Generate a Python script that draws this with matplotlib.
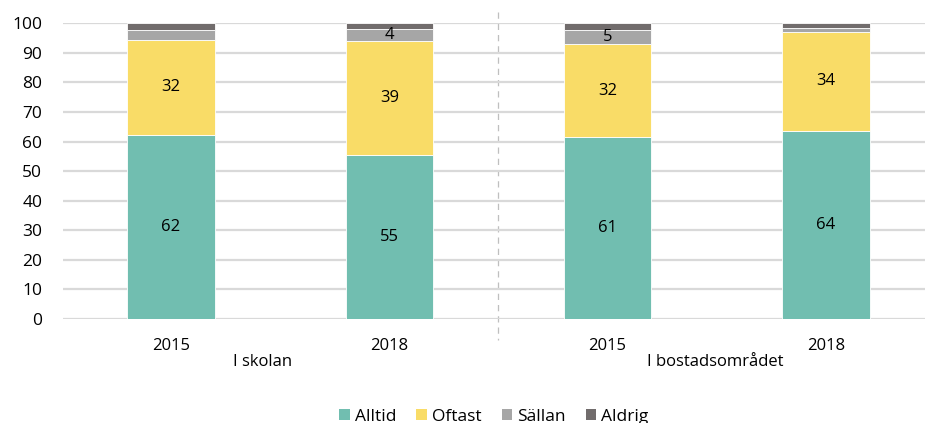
import numpy as np
import matplotlib
matplotlib.use('Agg')
import matplotlib.pyplot as plt
from matplotlib.patches import Patch

plt.rcParams['font.family'] = ['Open Sans', 'DejaVu Sans']

# data
years = ['2015', '2018', '2015', '2018']
groups = ['I skolan', 'I bostadsområdet']
series = ['Alltid', 'Oftast', 'Sällan', 'Aldrig']
alltid = [62.3, 55.4, 61.4, 63.6]
oftast = [32.0, 38.6, 31.6, 33.6]
sallan = [3.3, 4.0, 4.9, 1.1]
aldrig = [2.4, 2.0, 2.1, 1.7]

colors = ['#71BEB0', '#F9DC67', '#A6A6A6', '#716C6C']

fig = plt.figure(figsize=(9.25, 4.23), dpi=100)
ax = fig.add_axes([0.0681, 0.2459, 0.9319, 0.699])

x = np.arange(len(years))
bottom = np.zeros(len(years))
for vals, col in zip([alltid, oftast, sallan, aldrig], colors):
    vals = np.array(vals)
    ax.bar(x, vals, 0.40, bottom=bottom, color=col, edgecolor='white',
           linewidth=0.6, zorder=3)
    for xi, b, v in zip(x, bottom, vals):
        if v >= 3.5:
            ax.text(xi, b + v / 2, '%.0f' % v, ha='center', va='center',
                    fontsize=12, color='black', zorder=4)
    bottom += vals

ax.set_xlim(-0.495, 3.454)
ax.set_ylim(0, 100)
ax.set_yticks(range(0, 101, 10))
ax.yaxis.grid(True, color='#D9D9D9', linewidth=1.6, zorder=0)
ax.tick_params(axis='y', length=0, pad=15, labelsize=12.5)
ax.set_xticks(x)
ax.set_xticklabels(years)
ax.tick_params(axis='x', length=0, pad=14, labelsize=12)
for s in ax.spines.values():
    s.set_visible(False)

# group labels
ax.text(0.42, -14.5, groups[0], ha='center', va='center', fontsize=12)
ax.text(2.495, -14.5, groups[1], ha='center', va='center', fontsize=12)

# separator between groups
ax.plot([1.5, 1.5], [103.8, -7.1], color='#BFBFBF', linewidth=0.9,
        linestyle=(0, (5, 4)), clip_on=False, zorder=1)

handles = [Patch(facecolor=c, edgecolor='none', label=s) for s, c in zip(series, colors)]
ax.legend(handles=handles, loc='center', bbox_to_anchor=(0.5, -0.33), ncol=4,
          frameon=False, fontsize=12.5, handlelength=0.6, handleheight=0.6,
          handletextpad=0.3, columnspacing=1.15)

fig.savefig('out.png', dpi=100)
